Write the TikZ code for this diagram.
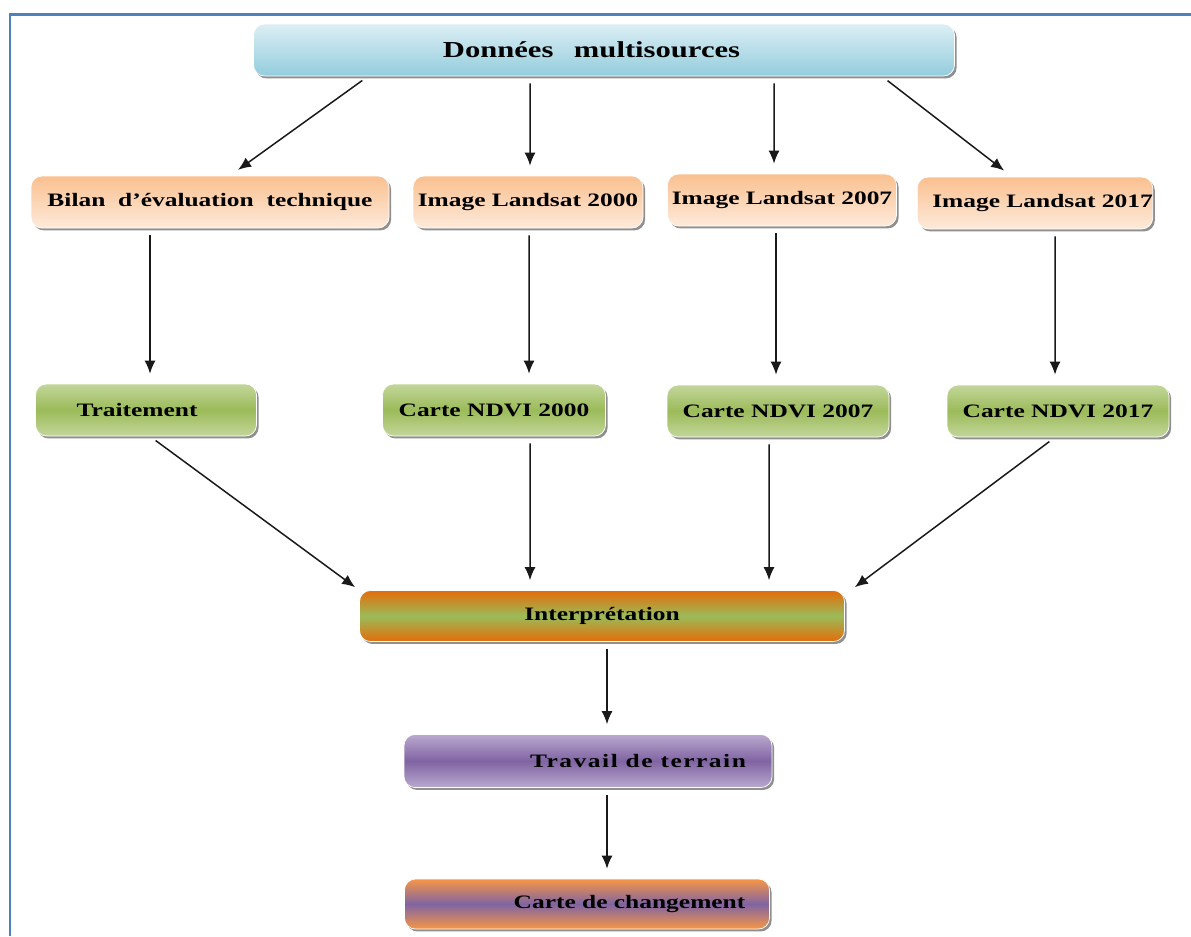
\documentclass[tikz,border=0pt]{standalone}
\usepackage{fontspec}
\setmainfont{Liberation Serif}[FakeStretch=1.34]
\usepackage{tikz}
\usetikzlibrary{arrows.meta,shadows}

\definecolor{frameblue}{HTML}{4F81BD}
\definecolor{skyA}{HTML}{DCEEF4}
\definecolor{skyB}{HTML}{93CDDD}
\definecolor{peachA}{HTML}{FAC090}
\definecolor{peachB}{HTML}{FDEADA}
\definecolor{leafA}{HTML}{C3D69B}
\definecolor{leafB}{HTML}{9BBB59}
\definecolor{rust}{HTML}{E46C0A}
\definecolor{lilacA}{HTML}{B9A9CF}
\definecolor{lilacB}{HTML}{8064A2}
\definecolor{apricot}{HTML}{F79646}

\begin{document}
\begin{tikzpicture}[every node/.style={font=\bfseries\fontsize{10.8}{12}\selectfont}, >={Latex[length=2.6mm,width=2.2mm]},
	box/.style={rounded corners=2.2mm, minimum height=1.04cm, inner sep=0pt, draw=white, line width=0.4pt, drop shadow={shadow xshift=1.2pt, shadow yshift=-1.4pt, fill=black!55, opacity=0.8}},
	sky/.style={box, top color=skyA, bottom color=skyB},
	peach/.style={box, top color=peachA, bottom color=peachB},
	leaf/.style={box, top color=leafA, bottom color=leafA, middle color=leafB},
	mix/.style={box, top color=rust, bottom color=rust, middle color=leafB},
	lilac/.style={box, top color=lilacA, bottom color=lilacA, middle color=lilacB},
	dusk/.style={box, top color=apricot, bottom color=apricot, middle color=lilacB},
	arr/.style={->, line width=0.85pt, black!90, shorten <=0.14cm, shorten >=0.2cm}]
	\useasboundingbox (0,0) rectangle (23.82,-18.72);
	\draw[frameblue, line width=1.7pt] (0.2,-18.72) -- (0.2,-0.28) -- (23.82,-0.28);
	% first row
	\node[sky, minimum width=14.02cm] (S) at (12.08,-1.0) {\fontsize{13}{15}\selectfont Données\hspace{0.9em}multisources\hspace*{0.5cm}};
	\node[peach, minimum width=7.16cm] (B) at (4.2,-4.04) {Bilan\ \ d’évaluation\ \ technique};
	\node[peach, minimum width=4.6cm] (L1) at (10.56,-4.04) {Image Landsat 2000};
	\node[peach, minimum width=4.58cm] (L2) at (15.64,-4.0) {Image Landsat 2007};
	\node[peach, minimum width=4.6cm] (L3) at (20.7,-4.06) {\hspace*{0.3cm}Image Landsat 2017};
	% second row
	\node[leaf, minimum width=4.42cm] (T) at (2.92,-8.2) {Traitement\hspace*{0.36cm}};
	\node[leaf, minimum width=4.46cm] (N1) at (9.88,-8.2) {Carte NDVI 2000};
	\node[leaf, minimum width=4.44cm] (N2) at (15.56,-8.22) {Carte NDVI 2007};
	\node[leaf, minimum width=4.44cm] (N3) at (21.16,-8.22) {Carte NDVI 2017};
	% bottom
	\node[mix, minimum width=9.7cm, minimum height=1.02cm] (I) at (12.04,-12.32) {Interprétation};
	\node[lilac, minimum width=7.36cm, minimum height=1.06cm] (W) at (11.76,-15.22) {\hspace*{2.0cm}\addfontfeature{LetterSpace=8}Travail de terrain};
	\node[dusk, minimum width=7.3cm, minimum height=1.0cm] (C) at (11.74,-18.08) {\hspace*{1.7cm}Carte de changement};
	% arrows
	\draw[arr] ([xshift=-4.72cm]S.south) -- ([xshift=0.4cm]B.north);
	\draw[arr] ([xshift=-1.48cm]S.south) -- ([xshift=0.04cm]L1.north);
	\draw[arr] ([xshift=3.4cm]S.south) -- ([xshift=-0.16cm]L2.north);
	\draw[arr] ([xshift=5.56cm]S.south) -- ([xshift=-0.46cm]L3.north);
	\draw[arr] ([xshift=-1.2cm]B.south) -- ([xshift=0.08cm]T.north);
	\draw[arr] ([xshift=0.02cm]L1.south) -- ([xshift=0.7cm]N1.north);
	\draw[arr] ([xshift=-0.12cm]L2.south) -- ([xshift=-0.04cm]N2.north);
	\draw[arr] ([xshift=0.4cm]L3.south) -- ([xshift=-0.06cm]N3.north);
	\draw[arr, shorten >=0.1cm] ([xshift=0.08cm]T.south) -- (I.north west);
	\draw[arr] ([xshift=0.72cm]N1.south) -- ([xshift=-1.44cm]I.north);
	\draw[arr] ([xshift=-0.18cm]N2.south) -- ([xshift=3.34cm]I.north);
	\draw[arr, shorten >=0.1cm] ([xshift=-0.06cm]N3.south) -- ([xshift=0.12cm]I.north east);
	\draw[arr] ([xshift=0.1cm]I.south) -- ([xshift=0.38cm]W.north);
	\draw[arr] ([xshift=0.38cm]W.south) -- ([xshift=0.4cm]C.north);
\end{tikzpicture}
\end{document}
